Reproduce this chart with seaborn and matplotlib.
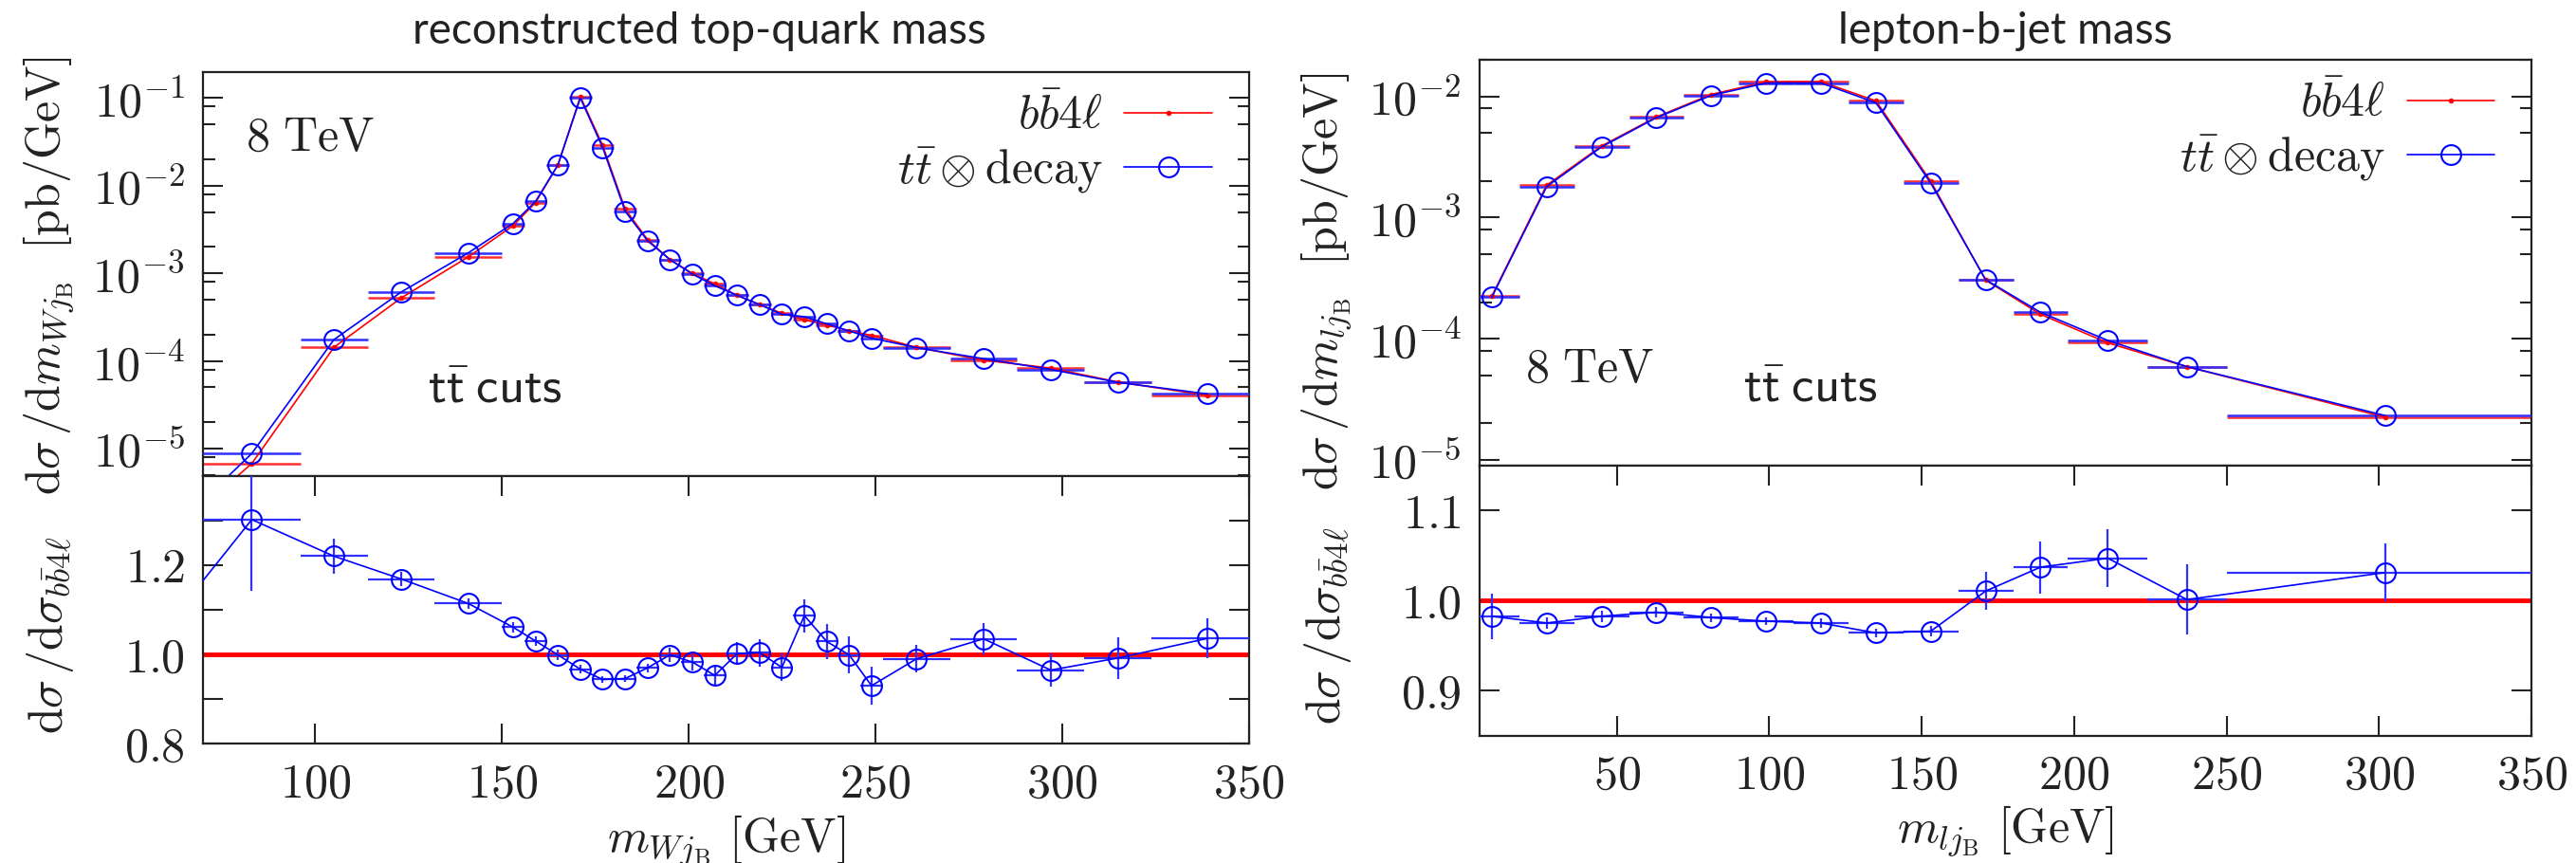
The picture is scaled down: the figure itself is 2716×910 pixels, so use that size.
import matplotlib
matplotlib.use("Agg")
import numpy as np
import pandas as pd
import matplotlib.pyplot as plt
import seaborn as sns
from matplotlib.ticker import FixedLocator, FuncFormatter, LogLocator, NullFormatter

# ---------------- data: reconstructed top-quark mass ----------------
wj_center = [57, 83, 105, 123, 141, 153, 159, 165, 171, 177, 183, 189, 195, 201,
             207, 213, 219, 225, 231, 237, 243, 249, 261, 279, 297, 315, 339]
wj_lo = [44, 70, 96, 114, 132, 150, 156, 162, 168, 174, 180, 186, 192, 198,
         204, 210, 216, 222, 228, 234, 240, 246, 252, 270, 288, 306, 324]
wj_hi = [70, 96, 114, 132, 150, 156, 162, 168, 174, 180, 186, 192, 198, 204,
         210, 216, 222, 228, 234, 240, 246, 252, 270, 288, 306, 324, 354]
wj_tt = [7.5e-7, 8.8e-6, 1.75e-4, 6.1e-4, 1.71e-3, 3.7e-3, 6.6e-3, 1.72e-2, 1.0e-1,
         2.7e-2, 5.1e-3, 2.35e-3, 1.43e-3, 9.8e-4, 7.2e-4, 5.6e-4, 4.4e-4, 3.4e-4,
         3.2e-4, 2.65e-4, 2.2e-4, 1.82e-4, 1.42e-4, 1.06e-4, 8.0e-5, 5.7e-5, 4.2e-5]
wj_bb4l = [7.3e-7, 6.76e-6, 1.43e-4, 5.22e-4, 1.54e-3, 3.49e-3, 6.41e-3, 1.72e-2,
           1.034e-1, 2.86e-2, 5.39e-3, 2.42e-3, 1.43e-3, 9.97e-4, 7.56e-4, 5.59e-4,
           4.38e-4, 3.5e-4, 2.94e-4, 2.58e-4, 2.2e-4, 1.96e-4, 1.43e-4, 1.02e-4,
           8.29e-5, 5.75e-5, 4.05e-5]
wj_ratio = [1.03, 1.302, 1.220, 1.169, 1.114, 1.061, 1.030, 0.999, 0.967, 0.944,
            0.946, 0.970, 0.999, 0.983, 0.953, 1.002, 1.004, 0.971, 1.087, 1.029,
            0.999, 0.930, 0.990, 1.035, 0.965, 0.992, 1.036]
wj_ratio_err = [0.2, 0.16, 0.04, 0.016, 0.012, 0.012, 0.01, 0.012, 0.01, 0.008,
                0.008, 0.01, 0.016, 0.018, 0.022, 0.026, 0.031, 0.031, 0.037,
                0.039, 0.041, 0.043, 0.031, 0.035, 0.038, 0.046, 0.045]

# ---------------- data: lepton-b-jet mass ----------------
lj_center = [9, 27, 45, 63, 81, 99, 117, 135, 153, 171, 189, 211, 237, 302]
lj_lo = [0, 18, 36, 54, 72, 90, 108, 126, 144, 162, 180, 198, 224, 250]
lj_hi = [18, 36, 54, 72, 90, 108, 126, 144, 162, 180, 198, 224, 250, 354]
lj_tt = [2.2e-4, 1.8e-3, 3.83e-3, 6.68e-3, 1.02e-2, 1.29e-2, 1.29e-2, 8.87e-3,
         1.92e-3, 3.07e-4, 1.65e-4, 9.68e-5, 5.88e-5, 2.32e-5]
lj_bb4l = [2.24e-4, 1.85e-3, 3.90e-3, 6.77e-3, 1.04e-2, 1.32e-2, 1.323e-2, 9.2e-3,
           1.99e-3, 3.04e-4, 1.59e-4, 9.25e-5, 5.87e-5, 2.25e-5]
lj_ratio = [0.9825, 0.975, 0.9825, 0.987, 0.981, 0.977, 0.975, 0.964, 0.966,
            1.0105, 1.037, 1.047, 1.001, 1.031]
lj_ratio_err = [0.025, 0.006, 0.006, 0.006, 0.005, 0.004, 0.005, 0.005, 0.006,
                0.021, 0.029, 0.032, 0.039, 0.032]

titles = ["reconstructed top-quark mass", "lepton-b-jet mass"]
legend_labels = [r"$b\bar{b}4\ell$", r"$t\bar{t}\otimes\mathrm{decay}$"]
energy_label = r"$8\ \mathrm{TeV}$"
cuts_label = r"$\mathsf{t\bar{t}\;cuts}$"
xlabels = [r"$m_{Wj_{\mathrm{B}}}\ [\mathrm{GeV}]$", r"$m_{lj_{\mathrm{B}}}\ [\mathrm{GeV}]$"]
ylabels_top = [r"$\mathrm{d}\sigma\,/\mathrm{d}m_{Wj_{\mathrm{B}}}\ \ [\mathrm{pb/GeV}]$",
               r"$\mathrm{d}\sigma\,/\mathrm{d}m_{lj_{\mathrm{B}}}\ \ [\mathrm{pb/GeV}]$"]
ylabel_ratio = r"$\mathrm{d}\sigma\,/\mathrm{d}\sigma_{b\bar{b}4\ell}$"

RED = "#ff0000"
BLUE = "#0000ff"
BAR_BLUE = "#3030ff"
BAR_RED = "#ff3030"
INK = "#222222"

sns.set_style("ticks")
plt.rcParams["font.family"] = ["Lato", "DejaVu Sans"]
plt.rcParams["mathtext.fontset"] = "cm"
plt.rcParams["axes.linewidth"] = 1.6
plt.rcParams["axes.edgecolor"] = INK
plt.rcParams["text.color"] = INK
plt.rcParams["axes.labelcolor"] = INK
plt.rcParams["xtick.color"] = INK
plt.rcParams["ytick.color"] = INK

W, H = 2716, 910
fig = plt.figure(figsize=(W / 100, H / 100), dpi=100)


def rect(x0, y0, x1, y1):
    return [x0 / W, 1 - y1 / H, (x1 - x0) / W, (y1 - y0) / H]


panels = [
    dict(top=rect(214.3, 76, 1316.5, 501.7), bot=rect(214.3, 501.7, 1316.5, 784.3),
         x=wj_center, lo=wj_lo, hi=wj_hi, tt=wj_tt, bb=wj_bb4l, r=wj_ratio,
         re=wj_ratio_err, xlim=(70, 350), ylim=(4.9e-6, 0.197), rlim=(0.8, 1.4),
         rticks=[0.8, 0.9, 1.0, 1.1, 1.2, 1.3], rlabels={0.8, 1.0, 1.2},
         xticks=[100, 150, 200, 250, 300, 350], decades=[-5, -4, -3, -2, -1],
         energy=(0.041, 0.838), cuts=(0.215, 0.215), title_x=737,
         ylab_top=(-0.122, 0.495), ylab_bot=(-0.122, 0.404), xlab_y=-0.257),
    dict(top=rect(1560, 62.7, 2669, 490.7), bot=rect(1560, 490.7, 2669, 775.7),
         x=lj_center, lo=lj_lo, hi=lj_hi, tt=lj_tt, bb=lj_bb4l, r=lj_ratio,
         re=lj_ratio_err, xlim=(5, 350), ylim=(9.0e-6, 0.0202), rlim=(0.85, 1.15),
         rticks=[0.9, 1.0, 1.1], rlabels={0.9, 1.0, 1.1},
         xticks=[50, 100, 150, 200, 250, 300, 350], decades=[-5, -4, -3, -2],
         energy=(0.043, 0.238), cuts=(0.251, 0.191), title_x=2114,
         ylab_top=(-0.12, 0.453), ylab_bot=(-0.12, 0.406), xlab_y=-0.250),
]

for i, p in enumerate(panels):
    ax = fig.add_axes(p["top"])
    axr = fig.add_axes(p["bot"], sharex=ax)
    x = np.array(p["x"], float)
    lo = np.array(p["lo"], float)
    hi = np.array(p["hi"], float)
    xerr = [x - lo, hi - x]
    df = pd.DataFrame({"m": x, "bb": p["bb"], "tt": p["tt"], "r": p["r"]})

    ax.set_yscale("log")
    # bin bars
    ax.errorbar(x, df["bb"], xerr=xerr, fmt="none", ecolor=BAR_RED, elinewidth=1.8,
                capsize=0, zorder=2)
    ax.errorbar(x, df["tt"], xerr=xerr, fmt="none", ecolor=BAR_BLUE, elinewidth=1.8,
                capsize=0, zorder=3)
    sns.lineplot(data=df, x="m", y="bb", ax=ax, color=RED, lw=1.2, marker="o",
                 markersize=3.5, markerfacecolor=RED, markeredgecolor=RED,
                 markeredgewidth=0.5, estimator=None, errorbar=None,
                 label=legend_labels[0], zorder=4)
    sns.lineplot(data=df, x="m", y="tt", ax=ax, color=BLUE, lw=1.2, marker="o",
                 markersize=15, markerfacecolor="none", markeredgecolor=BLUE,
                 markeredgewidth=1.5, estimator=None, errorbar=None,
                 label=legend_labels[1], zorder=5)
    ax.set_xlim(*p["xlim"])
    ax.set_ylim(*p["ylim"])
    ax.yaxis.set_major_locator(FixedLocator([10.0 ** d for d in p["decades"]]))
    ax.yaxis.set_minor_locator(LogLocator(base=10, subs=(2.0, 5.0, 8.0), numticks=30))
    ax.yaxis.set_major_formatter(FuncFormatter(lambda v, pos: r"$10^{%d}$" % round(np.log10(v))))
    ax.yaxis.set_minor_formatter(NullFormatter())
    ax.tick_params(axis="x", which="both", bottom=False, top=False, labelbottom=False)
    ax.tick_params(axis="y", which="major", direction="in", left=True, right=True,
                   length=15, width=1.5, labelsize=36, pad=14)
    ax.tick_params(axis="y", which="minor", direction="in", left=True, right=True,
                   length=9, width=1.5)
    ax.set_xlabel("")
    ax.set_ylabel(ylabels_top[i], fontsize=36)
    ax.yaxis.set_label_coords(*p["ylab_top"])

    ax.legend(loc="upper right", bbox_to_anchor=(0.965, 0.95), frameon=False,
              markerfirst=False, fontsize=36, handlelength=1.85,
              handletextpad=0.45, labelspacing=0.15, borderpad=0,
              borderaxespad=0)

    ax.text(*p["energy"], energy_label, transform=ax.transAxes, fontsize=36,
            ha="left", va="center")
    ax.text(*p["cuts"], cuts_label, transform=ax.transAxes, fontsize=38,
            ha="left", va="center")
    fig.text(p["title_x"] / W, 1 - 33 / H, titles[i], fontsize=33, ha="center",
             va="center", family=["Lato", "DejaVu Sans"])

    # ratio panel
    axr.axhline(1.0, color=RED, lw=3.5, zorder=2)
    axr.errorbar(x, df["r"], xerr=xerr, yerr=p["re"], fmt="none", ecolor=BAR_BLUE,
                 elinewidth=1.6, capsize=0, zorder=3)
    sns.lineplot(data=df, x="m", y="r", ax=axr, color=BLUE, lw=1.2, marker="o",
                 markersize=15, markerfacecolor="none", markeredgecolor=BLUE,
                 markeredgewidth=1.5, estimator=None, errorbar=None, zorder=4)
    axr.set_xlim(*p["xlim"])
    axr.set_ylim(*p["rlim"])
    axr.xaxis.set_major_locator(FixedLocator(p["xticks"]))
    axr.xaxis.set_major_formatter(FuncFormatter(lambda v, pos: r"$%d$" % round(v)))
    rl = p["rlabels"]
    axr.yaxis.set_major_locator(FixedLocator(p["rticks"]))
    axr.yaxis.set_major_formatter(FuncFormatter(
        lambda v, pos, rl=rl: (r"$%.1f$" % v) if any(abs(v - t) < 1e-6 for t in rl) else ""))
    axr.tick_params(axis="both", which="major", direction="in", left=True, right=True,
                    top=True, bottom=True, length=15, width=1.5, labelsize=36, pad=14)
    axr.tick_params(axis="both", which="minor", left=False, right=False, top=False,
                    bottom=False)
    axr.set_xlabel(xlabels[i], fontsize=36, va="top")
    axr.xaxis.set_label_coords(0.5, p["xlab_y"])
    axr.set_ylabel(ylabel_ratio, fontsize=36)
    axr.yaxis.set_label_coords(*p["ylab_bot"])
    leg_r = axr.get_legend()
    if leg_r is not None:
        leg_r.remove()

fig.savefig("out.png", dpi=100)
